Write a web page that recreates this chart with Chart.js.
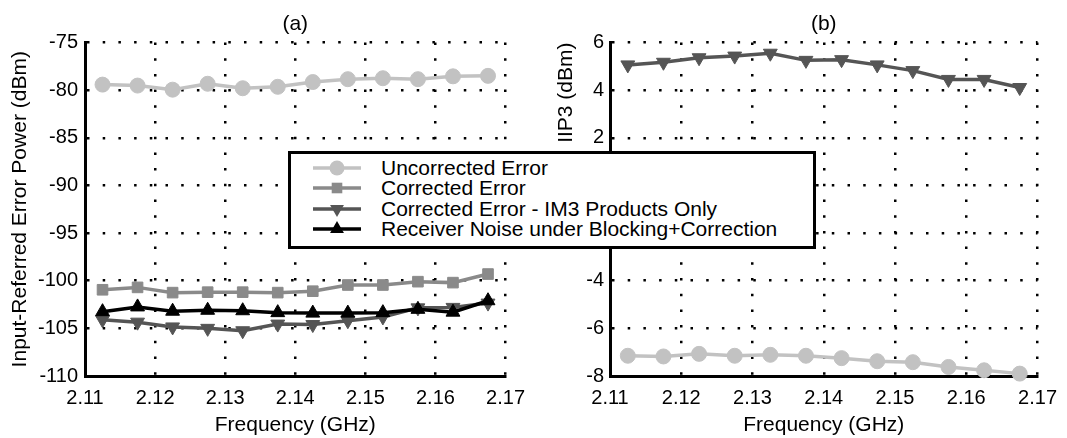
<!DOCTYPE html>
<html>
<head>
<meta charset="utf-8">
<script src="https://cdn.jsdelivr.net/npm/chart.js@4/dist/chart.umd.min.js"></script>
<style>
  body { margin: 0; background: #fff; }
  #wrap { position: relative; width: 1067px; height: 438px; overflow: hidden; }
  .pane { position: absolute; top: 0; }
  #legend {
    position: absolute; left: 288px; top: 151px; width: 528px; height: 98px;
    box-sizing: border-box; border: 3px solid #000; background: #fff; z-index: 5;
    font-family: 'Liberation Sans', Arial, sans-serif; font-size: 21px; color: #000;
  }
  .row { position: absolute; left: 0; height: 20px; width: 100%; }
  .row svg { position: absolute; left: 21px; top: -4px; }
  .row span { position: absolute; left: 90px; top: -1px; line-height: 22px; white-space: nowrap; }
</style>
</head>
<body>
<div id="wrap">
  <div class="pane" style="left:0"><canvas id="errChart" width="535" height="438"></canvas></div>
  <div class="pane" style="left:535px"><canvas id="iip3Chart" width="532" height="438"></canvas></div>
  <div id="legend"></div>
</div>
<script>
// channel centre frequencies (GHz)
const freqGHz = [2.1125, 2.1175, 2.1225, 2.1275, 2.1325, 2.1375, 2.1425, 2.1475, 2.1525, 2.1575, 2.1625, 2.1675];

// (a) input-referred error power, dBm
const uncorrectedErr = [-79.42, -79.52, -79.95, -79.33, -79.8, -79.65, -79.15, -78.85, -78.75, -78.85, -78.55, -78.5];
const correctedErr = [-100.95, -100.7, -101.25, -101.2, -101.2, -101.25, -101.1, -100.45, -100.45, -100.1, -100.2, -99.3];
const im3OnlyErr = [-104.1, -104.35, -104.85, -105.0, -105.25, -104.55, -104.6, -104.2, -103.8, -102.85, -102.8, -102.35];
const rxNoiseErr = [-103.25, -102.75, -103.2, -103.1, -103.15, -103.35, -103.4, -103.4, -103.35, -103.0, -103.3, -102.1];

// (b) IIP3, dBm
const iip3Corrected = [5.06, 5.17, 5.36, 5.43, 5.55, 5.25, 5.28, 5.06, 4.82, 4.45, 4.45, 4.11];
const iip3Uncorrected = [-7.15, -7.18, -7.07, -7.15, -7.11, -7.15, -7.25, -7.38, -7.42, -7.62, -7.76, -7.9];

const freqTicks = [2.11, 2.12, 2.13, 2.14, 2.15, 2.16, 2.17];
const errTicks = [-110, -105, -100, -95, -90, -85, -80, -75];
const iip3Ticks = [-8, -6, -4, -2, 0, 2, 4, 6];

const seriesNames = ['Uncorrected Error', 'Corrected Error', 'Corrected Error - IM3 Products Only', 'Receiver Noise under Blocking+Correction'];

const FONT = "'Liberation Sans', Arial, sans-serif";
const styles = [
  { color: '#c2c2c2', shape: 'circle', radius: 7.5, rot: 0 },
  { color: '#8a8a8a', shape: 'rect', radius: 7.5, rot: 0 },
  { color: '#555555', shape: 'triangle', radius: 8, rot: 180 },
  { color: '#000000', shape: 'triangle', radius: 8, rot: 0 }
];

function series(values, st, order) {
  return {
    data: values.map((v, i) => ({ x: freqGHz[i], y: v })),
    borderColor: st.color,
    backgroundColor: st.color,
    borderWidth: 3.5,
    pointStyle: st.shape,
    pointRadius: st.radius,
    pointRotation: st.rot,
    pointBackgroundColor: st.color,
    pointBorderColor: st.color,
    pointBorderWidth: 1,
    tension: 0,
    clip: false,
    order: order
  };
}

function fixedTicks(list) {
  return scale => { scale.ticks = list.map(v => ({ value: v })); };
}

function gridAxis(min, max, list, fmt) {
  return {
    type: 'linear', min: min, max: max,
    afterBuildTicks: fixedTicks(list),
    ticks: { color: '#000', font: { family: FONT, size: 20 }, callback: fmt },
    grid: { color: '#000', lineWidth: 2.5, drawTicks: false },
    border: { display: true, color: '#000', width: 3, dash: [2.5, 13.2] }
  };
}

function buildOptions(cfg) {
  const x = gridAxis(2.11, 2.17, freqTicks, v => v.toFixed(2));
  x.ticks.padding = 10;
  x.title = { display: true, text: 'Frequency (GHz)', color: '#000', font: { family: FONT, size: 21 }, padding: { top: 0, bottom: 0 } };
  x.afterFit = s => { s.height = 62; };

  const y = gridAxis(cfg.yMin, cfg.yMax, cfg.yTicks, v => String(v));
  y.ticks.padding = cfg.tickPad;
  y.title = { display: true, text: cfg.yTitle, align: cfg.yAlign, color: '#000', font: { family: FONT, size: 21 }, padding: { top: cfg.titlePad, bottom: 0 } };
  y.afterFit = s => { s.width = cfg.yWidth; };

  return {
    responsive: false,
    animation: false,
    layout: { padding: { left: 0, right: cfg.padRight, top: 0, bottom: 0 } },
    plugins: {
      legend: { display: false },
      tooltip: { enabled: false },
      title: {
        display: true, text: cfg.title, fullSize: false, color: '#000',
        font: { family: FONT, size: 21, weight: 'normal' },
        padding: { top: 12, bottom: 5.3 }
      }
    },
    scales: { x: x, y: y }
  };
}

new Chart(document.getElementById('errChart'), {
  type: 'line',
  data: {
    datasets: [
      series(uncorrectedErr, styles[0], 4),
      series(correctedErr, styles[1], 3),
      series(im3OnlyErr, styles[2], 2),
      series(rxNoiseErr, styles[3], 1)
    ]
  },
  options: buildOptions({
    title: '(a)', yMin: -110, yMax: -75, yTicks: errTicks,
    yTitle: 'Input-Referred Error Power (dBm)', yAlign: 'center',
    titlePad: 7.4, tickPad: 7, yWidth: 85, padRight: 19
  })
});

new Chart(document.getElementById('iip3Chart'), {
  type: 'line',
  data: {
    datasets: [
      series(iip3Uncorrected, styles[0], 2),
      series(iip3Corrected, styles[2], 1)
    ]
  },
  options: buildOptions({
    title: '(b)', yMin: -8, yMax: 6, yTicks: iip3Ticks,
    yTitle: 'IIP3 (dBm)', yAlign: 'end',
    titlePad: 18.4, tickPad: 6, yWidth: 75, padRight: 27
  })
});

// shared legend box sitting across both panels
function markerSvg(st) {
  const cx = 25, cy = 14;
  let m = '';
  if (st.shape === 'circle') {
    m = `<circle cx="${cx}" cy="${cy}" r="7.5" fill="${st.color}"/>`;
  } else if (st.shape === 'rect') {
    m = `<rect x="${cx - 5.3}" y="${cy - 5.3}" width="10.6" height="10.6" fill="${st.color}"/>`;
  } else {
    const r = 8, h = r * Math.sqrt(3) / 2;
    const pts = st.rot ? `${cx - h},${cy - r / 2} ${cx + h},${cy - r / 2} ${cx},${cy + r}`
                       : `${cx - h},${cy + r / 2} ${cx + h},${cy + r / 2} ${cx},${cy - r}`;
    m = `<polygon points="${pts}" fill="${st.color}"/>`;
  }
  return `<svg width="50" height="28"><line x1="1" y1="${cy}" x2="49" y2="${cy}" stroke="${st.color}" stroke-width="3.5"/>${m}</svg>`;
}

const legend = document.getElementById('legend');
seriesNames.forEach((name, i) => {
  const row = document.createElement('div');
  row.className = 'row';
  row.style.top = (4 + i * 20.3) + 'px';
  row.innerHTML = markerSvg(styles[i]) + `<span>${name}</span>`;
  legend.appendChild(row);
});
</script>
</body>
</html>
